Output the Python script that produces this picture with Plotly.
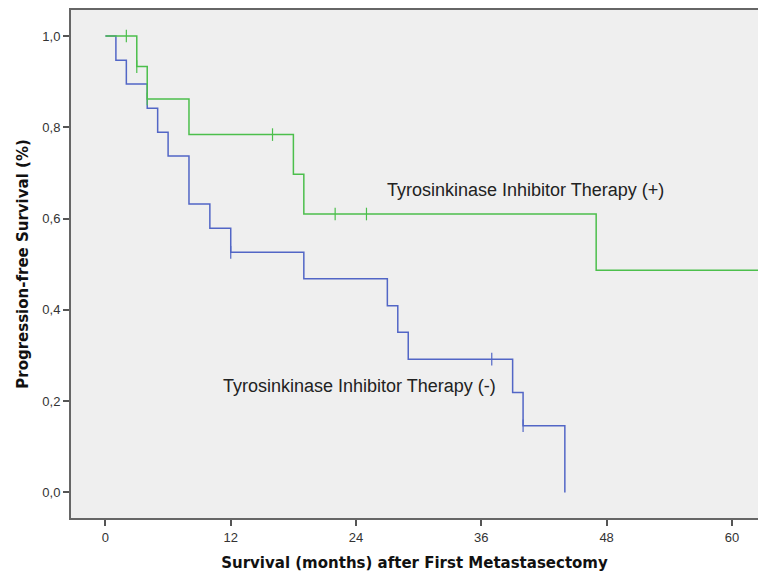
import plotly.graph_objects as go

# Kaplan-Meier step data (months, survival proportion)
tki_pos_time = [0, 3, 4, 8, 18, 19, 47, 65]
tki_pos_surv = [1.0, 0.933, 0.862, 0.784, 0.697, 0.610, 0.487, 0.487]
tki_pos_cens_time = [2, 3, 4, 16, 22, 25]
tki_pos_cens_surv = [1.0, 0.933, 0.862, 0.784, 0.610, 0.610]

tki_neg_time = [0, 1, 2, 4, 5, 6, 8, 10, 12, 19, 27, 28, 29, 39, 40, 44]
tki_neg_surv = [1.0, 0.947, 0.895, 0.842, 0.789, 0.737, 0.632, 0.579, 0.526,
                0.468, 0.409, 0.351, 0.292, 0.219, 0.146, 0.0]
tki_neg_cens_time = [12, 37, 40]
tki_neg_cens_surv = [0.526, 0.292, 0.146]

x_ticks = [0, 12, 24, 36, 48, 60]
y_ticks = [0.0, 0.2, 0.4, 0.6, 0.8, 1.0]
y_tick_labels = ["0,0", "0,2", "0,4", "0,6", "0,8", "1,0"]

green = "#4cbf4c"
blue = "#5266c6"

fig = go.Figure()
fig.add_trace(go.Scatter(x=tki_neg_time, y=tki_neg_surv, mode="lines",
                         line=dict(color=blue, width=1.5, shape="hv"), showlegend=False))
fig.add_trace(go.Scatter(x=tki_neg_cens_time, y=tki_neg_cens_surv, mode="markers",
                         marker=dict(symbol="line-ns", size=9, line=dict(color=blue, width=1.2)),
                         showlegend=False))
fig.add_trace(go.Scatter(x=tki_pos_time, y=tki_pos_surv, mode="lines",
                         line=dict(color=green, width=1.5, shape="hv"), showlegend=False))
fig.add_trace(go.Scatter(x=tki_pos_cens_time, y=tki_pos_cens_surv, mode="markers",
                         marker=dict(symbol="line-ns", size=9, line=dict(color=green, width=1.2)),
                         showlegend=False))

fig.add_annotation(x=26.8, y=0.663, text="Tyrosinkinase Inhibitor Therapy (+)",
                   xanchor="left", yanchor="middle", showarrow=False,
                   font=dict(family="Liberation Sans", size=18, color="#222222"))
fig.add_annotation(x=11.06, y=0.233, text="Tyrosinkinase Inhibitor Therapy (-)",
                   xanchor="left", yanchor="middle", showarrow=False,
                   font=dict(family="Liberation Sans", size=18, color="#222222"))

fig.update_layout(
    width=758, height=576,
    margin=dict(l=71, r=0, t=10, b=58),
    paper_bgcolor="white", plot_bgcolor="#efefef",
    font=dict(family="Liberation Sans", size=13, color="#333333"),
    xaxis=dict(range=[-3.3, 62.5], tickvals=x_ticks, ticks="outside", ticklen=6,
               tickcolor="#555555", tickwidth=1.5, showgrid=False, zeroline=False,
               showline=True, linecolor="#666666", linewidth=2, mirror=True,
               title=dict(text="<b>Survival (months) after First Metastasectomy</b>",
                          font=dict(family="DejaVu Sans", size=15, color="#111111"),
                          standoff=14)),
    yaxis=dict(range=[-0.056, 1.057], tickvals=y_ticks, ticktext=y_tick_labels,
               ticks="outside", ticklen=6, tickcolor="#555555", tickwidth=1.5,
               showgrid=False, zeroline=False, showline=True, linecolor="#666666",
               linewidth=2,
               title=dict(text="<b>Progression-free Survival (%)</b>",
                          font=dict(family="DejaVu Sans", size=15, color="#111111"),
                          standoff=10)),
)

fig.write_html("out.html", config={"displayModeBar": False},
               post_script="document.body.style.margin='0';document.body.style.overflow='hidden';")
